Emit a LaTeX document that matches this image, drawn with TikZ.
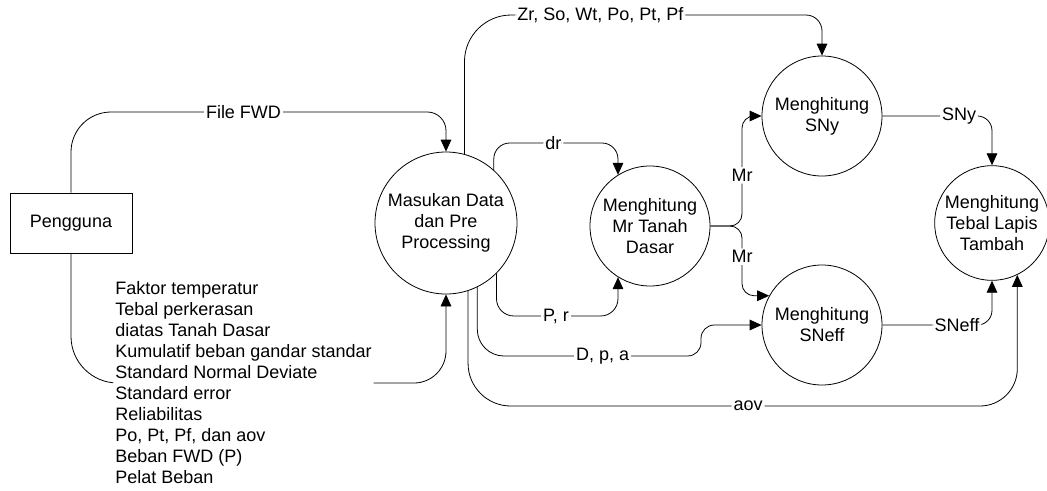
\documentclass[tikz,border=0pt]{standalone}
\usepackage{fontspec}
\setmainfont{Liberation Sans}
\usepackage{tikz}
\usetikzlibrary{arrows.meta,calc}

\begin{document}
\begin{tikzpicture}[
    x=0.75pt, y=-0.75pt,
    every node/.style={font=\fontsize{13.5}{15.75}\selectfont},
    entity/.style={rectangle, draw=black, line width=0.6pt,
                   minimum width=91.5pt, minimum height=45pt},
    process/.style={circle, draw=black, line width=0.6pt,
                    minimum size=90pt, inner sep=1pt, align=center},
    flow/.style={draw=black, line width=0.6pt, rounded corners=11pt,
                 -{Triangle[length=9pt,width=8pt]}},
    lbl/.style={fill=white, inner sep=1.5pt}
]
\useasboundingbox (0,0) rectangle (1047,490);

% External entity
\node[entity] (user) at (71,223) {Pengguna};

% Processes
\node[process, minimum size=106.5pt] (prep) at (446,223) {Masukan Data\\dan Pre\\Processing};
\node[process] (mr) at (650,226) {Menghitung\\Mr Tanah\\Dasar};
\node[process] (sny) at (822,116) {Menghitung\\SNy};
\node[process] (sneff) at (822,325) {Menghitung\\SNeff};
\node[process, minimum size=86pt] (tebal) at (992,223) {Menghitung\\Tebal Lapis\\Tambah};

% Routing levels
\coordinate (zry) at (0,15);
\coordinate (fwdy) at (0,112);
\coordinate (dry) at (0,143);
\coordinate (pry) at (0,316);
\coordinate (dpay) at (0,356);
\coordinate (inpy) at (0,383);
\coordinate (aovy) at (0,406);
\coordinate (mrx) at (742,0);
\coordinate (jog) at (701,0);

% Data from user
\draw[flow] (user.north) [rounded corners=30pt] -- (user.north |- fwdy) [rounded corners=14pt]
    -- node[lbl, pos=0.46] {File FWD} (prep.north |- fwdy)
    -- (prep.north);
\draw[flow] (user.south) [rounded corners=35pt] -- (user.south |- inpy) [rounded corners=24pt]
    -- node[lbl, align=left, pos=0.46] {Faktor temperatur\\Tebal perkerasan\\diatas Tanah Dasar\\Kumulatif beban gandar standar\\Standard Normal Deviate\\Standard error\\Reliabilitas\\Po, Pt, Pf, dan aov\\Beban FWD (P)\\Pelat Beban} (prep.south |- inpy)
    -- (prep.south);

% Flows out of pre processing
\draw[flow] (prep.75) [rounded corners=35pt] -- (prep.75 |- zry) [rounded corners=12pt]
    -- node[lbl, pos=0.38] {Zr, So, Wt, Po, Pt, Pf} (sny.north |- zry)
    -- (sny.north);
\draw[flow, rounded corners=12pt] (prep.48) -- (prep.48 |- dry)
    -- node[lbl, pos=0.48] {dr} (mr.122 |- dry) -- (mr.122);
\draw[flow, rounded corners=13pt] (prep.-45) -- (prep.-45 |- pry)
    -- node[lbl, pos=0.49] {P, r} (mr.-122 |- pry) -- (mr.-122);
\draw[flow] (prep.-64) [rounded corners=20pt] -- (prep.-64 |- dpay) [rounded corners=10pt]
    -- node[lbl, pos=0.56] {D, p, a} (jog |- dpay)
    -- (jog |- sneff.west) -- (sneff.west);
\draw[flow] (prep.-72) [rounded corners=32pt] -- (prep.-72 |- aovy) [rounded corners=28pt]
    -- node[lbl, pos=0.51] {aov} (tebal.-64 |- aovy)
    -- (tebal.-64);

% Mr to both SN processes
\draw[flow, rounded corners=9pt] (mr.east) -- (mr.east -| mrx)
    -- node[lbl, pos=0.46] {Mr} (sny.west -| mrx) -- (sny.west);
\draw[flow, rounded corners=9pt] (mr.east) -- (mr.east -| mrx)
    -- node[lbl, pos=0.44] {Mr} (sneff.151 -| mrx) -- (sneff.151);

% Structural numbers to overlay thickness
\draw[flow] (sny.east) -- node[lbl, pos=0.70] {SNy} (tebal.north |- sny.east) -- (tebal.north);
\draw[flow] (sneff.east) -- node[lbl, pos=0.68] {SNeff} (tebal.south |- sneff.east) -- (tebal.south);

\end{tikzpicture}
\end{document}
